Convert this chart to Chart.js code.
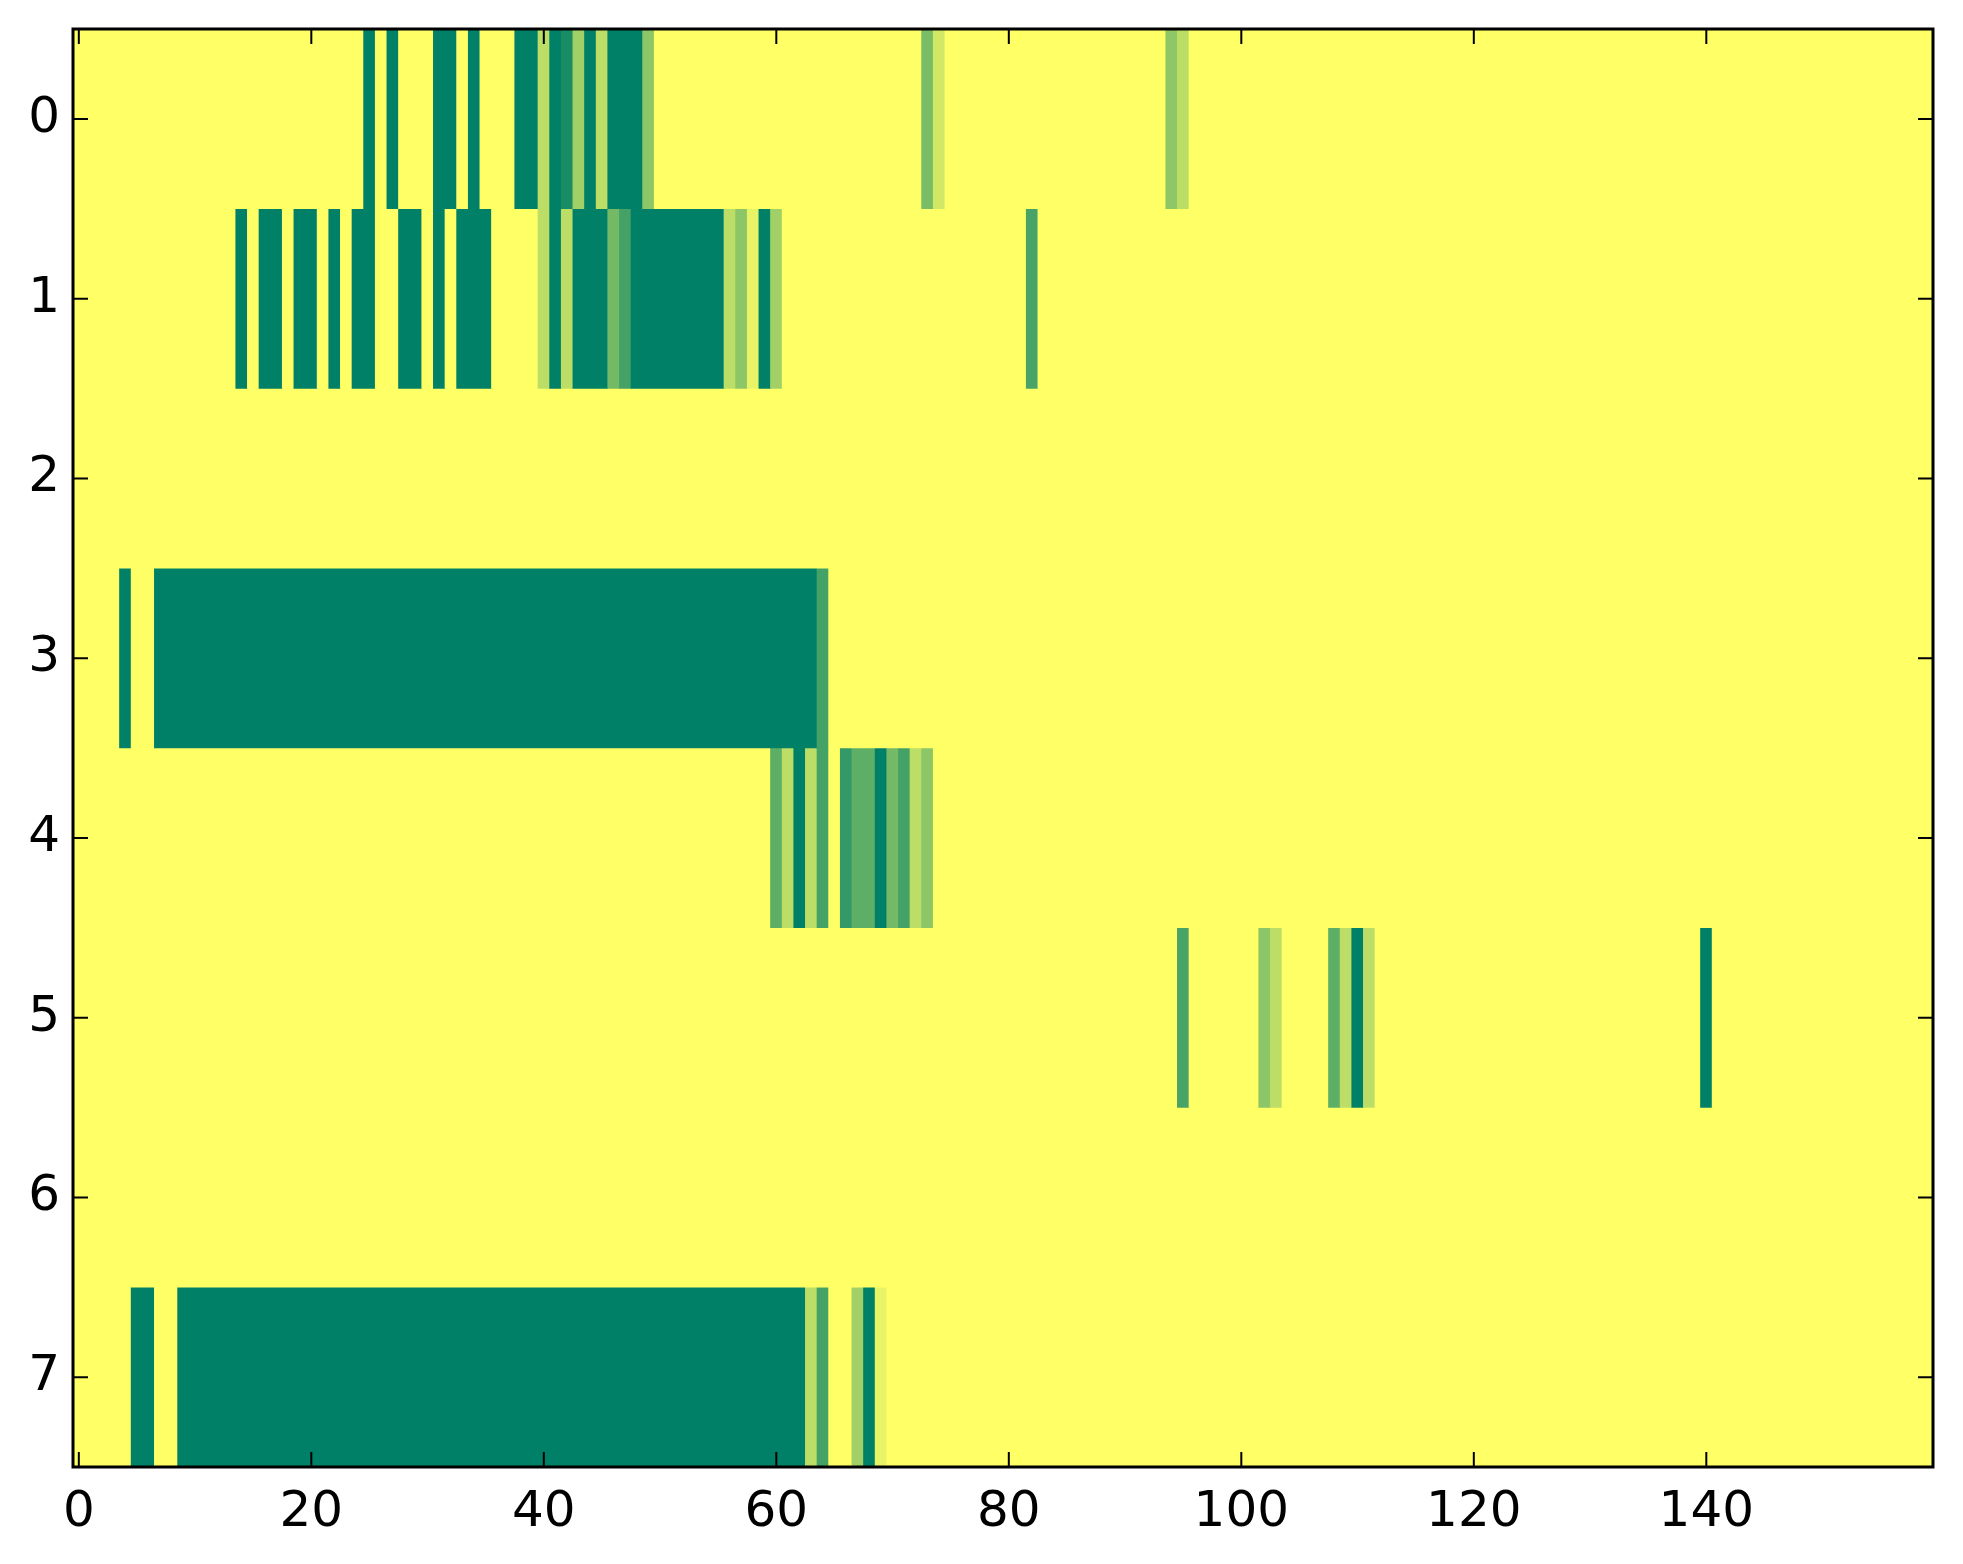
<!DOCTYPE html>
<html>
<head>
<meta charset="utf-8">
<script src="https://cdn.jsdelivr.net/npm/chart.js@4.4.1/dist/chart.umd.min.js"></script>
<style>
html,body{margin:0;padding:0;background:#fff;}
#wrap{width:1963px;height:1564px;position:relative;}
</style>
</head>
<body>
<div id="wrap"><canvas id="c"></canvas></div>
<script>
// ---- data ----
const nCols = 160;
const rowLabels = [0, 1, 2, 3, 4, 5, 6, 7];
const xTickValues = [0, 20, 40, 60, 80, 100, 120, 140];

// non-zero cells of each row: [column, value]; all other cells are 0
const row0 = [[25,1],[27,1],[31,1],[32,1],[34,1],[38,1],[39,1],[40,0.26],[41,1],[42,0.9],[43,0.37],[44,1],[45,0.26],[46,1],[47,1],[48,1],[49,0.45],[73,0.52],[74,0.18],[94,0.44],[95,0.27]];
const row1 = [[14,1],[16,1],[17,1],[19,1],[20,1],[22,1],[24,1],[25,1],[28,1],[29,1],[31,1],[33,1],[34,1],[35,1],[40,0.26],[41,1],[42,0.26],[43,1],[44,1],[45,1],[46,0.55],[47,0.73],[48,1],[49,1],[50,1],[51,1],[52,1],[53,1],[54,1],[55,1],[56,0.26],[57,0.45],[58,0.09],[59,1],[60,0.37],[82,0.72]];
const row2 = [];
const row3 = [[4,1],[7,1],[8,1],[9,1],[10,1],[11,1],[12,1],[13,1],[14,1],[15,1],[16,1],[17,1],[18,1],[19,1],[20,1],[21,1],[22,1],[23,1],[24,1],[25,1],[26,1],[27,1],[28,1],[29,1],[30,1],[31,1],[32,1],[33,1],[34,1],[35,1],[36,1],[37,1],[38,1],[39,1],[40,1],[41,1],[42,1],[43,1],[44,1],[45,1],[46,1],[47,1],[48,1],[49,1],[50,1],[51,1],[52,1],[53,1],[54,1],[55,1],[56,1],[57,1],[58,1],[59,1],[60,1],[61,1],[62,1],[63,1],[64,0.73]];
const row4 = [[60,0.63],[61,0.26],[62,1],[63,0.26],[64,0.73],[66,0.8],[67,0.63],[68,0.63],[69,1],[70,0.55],[71,0.73],[72,0.26],[73,0.45]];
const row5 = [[95,0.72],[102,0.45],[103,0.26],[108,0.63],[109,0.26],[110,1],[111,0.26],[140,1]];
const row6 = [];
const row7 = [[5,1],[6,1],[9,1],[10,1],[11,1],[12,1],[13,1],[14,1],[15,1],[16,1],[17,1],[18,1],[19,1],[20,1],[21,1],[22,1],[23,1],[24,1],[25,1],[26,1],[27,1],[28,1],[29,1],[30,1],[31,1],[32,1],[33,1],[34,1],[35,1],[36,1],[37,1],[38,1],[39,1],[40,1],[41,1],[42,1],[43,1],[44,1],[45,1],[46,1],[47,1],[48,1],[49,1],[50,1],[51,1],[52,1],[53,1],[54,1],[55,1],[56,1],[57,1],[58,1],[59,1],[60,1],[61,1],[62,1],[63,0.26],[64,0.73],[67,0.37],[68,1],[69,0.09]];
const rows = [row0, row1, row2, row3, row4, row5, row6, row7];

// ---- colormap (matplotlib summer_r) ----
function summerR(v) {
  const t = 1 - v;
  return 'rgb(' + Math.round(t * 255) + ',' + Math.round((0.5 + 0.5 * t) * 255) + ',102)';
}

// ---- build datasets: one per row, runs of equal cells merged ----
const datasets = rows.map((cells, r) => {
  const dense = new Array(nCols).fill(0);
  cells.forEach(([c, v]) => { dense[c] = v; });
  const data = [], colors = [];
  let start = 0;
  for (let c = 1; c <= nCols; c++) {
    if (c === nCols || dense[c] !== dense[start]) {
      data.push({ x: [start - 0.5, c - 0.5], y: rowLabels[r] });
      colors.push(summerR(dense[start]));
      start = c;
    }
  }
  return {
    label: 'row ' + r,
    data: data,
    backgroundColor: colors,
    borderWidth: 0,
    grouped: false,
    barPercentage: 1,
    categoryPercentage: 1
  };
});

const framePlugin = {
  id: 'frame',
  beforeDatasetsDraw(chart) {
    const { ctx, chartArea: a } = chart;
    ctx.save();
    ctx.fillStyle = summerR(0);
    ctx.fillRect(a.left, a.top, a.width, a.height);
    ctx.restore();
  },
  afterDatasetsDraw(chart) {
    const { ctx, chartArea: a, scales } = chart;
    const x = scales.x, y = scales.y;
    const L = 15;
    ctx.save();
    ctx.strokeStyle = '#000';
    ctx.lineWidth = 2;
    ctx.beginPath();
    xTickValues.forEach(v => {
      const px = x.getPixelForValue(v);
      ctx.moveTo(px, a.bottom); ctx.lineTo(px, a.bottom - L);
      ctx.moveTo(px, a.top); ctx.lineTo(px, a.top + L);
    });
    rowLabels.forEach(v => {
      const py = y.getPixelForValue(v);
      ctx.moveTo(a.left, py); ctx.lineTo(a.left + L, py);
      ctx.moveTo(a.right, py); ctx.lineTo(a.right - L, py);
    });
    ctx.stroke();
    ctx.lineWidth = 3;
    ctx.strokeRect(a.left, a.top, a.right - a.left, a.bottom - a.top);
    ctx.restore();
  }
};

const font = { family: 'DejaVu Sans', size: 50 };

new Chart(document.getElementById('c'), {
  type: 'bar',
  data: { datasets: datasets },
  options: {
    indexAxis: 'y',
    responsive: true,
    maintainAspectRatio: false,
    devicePixelRatio: 1,
    animation: false,
    layout: { padding: { top: 29, right: 30, left: 0, bottom: 0 } },
    plugins: { legend: { display: false }, tooltip: { enabled: false } },
    scales: {
      x: {
        type: 'linear',
        position: 'bottom',
        offset: false,
        min: -0.5,
        max: nCols - 0.5,
        grid: { display: false, drawTicks: false },
        border: { display: false },
        afterBuildTicks: s => { s.ticks = xTickValues.map(v => ({ value: v })); },
        afterFit: s => { s.height = 97; s.paddingLeft = 0; s.paddingRight = 0; },
        ticks: { font: font, color: '#000', padding: 16, maxRotation: 0, autoSkip: false }
      },
      y: {
        type: 'linear',
        reverse: true,
        offset: false,
        min: -0.5,
        max: rowLabels.length - 0.5,
        grid: { display: false, drawTicks: false },
        border: { display: false },
        afterBuildTicks: s => { s.ticks = rowLabels.map(v => ({ value: v })); },
        afterFit: s => { s.width = 73; s.paddingTop = 0; s.paddingBottom = 0; },
        ticks: { font: font, color: '#000', padding: 13, autoSkip: false }
      }
    }
  },
  plugins: [framePlugin]
});
</script>
</body>
</html>
